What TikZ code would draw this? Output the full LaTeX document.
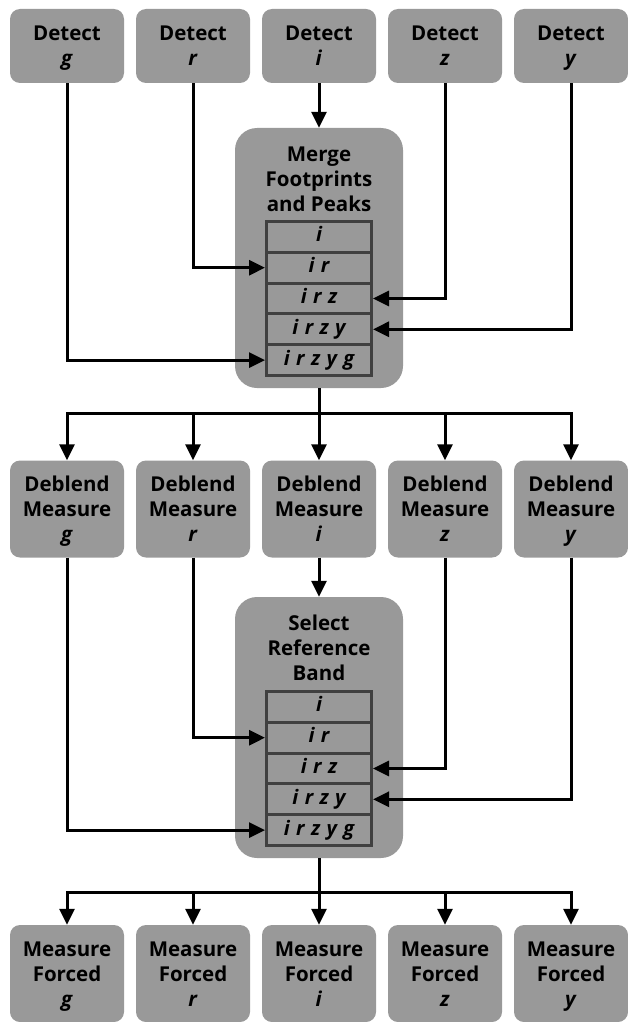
\documentclass[tikz,border=0pt]{standalone}
\usepackage{fontspec}
\setmainfont{Open Sans}
\usetikzlibrary{arrows.meta,calc}
\definecolor{boxgray}{HTML}{999999}
\definecolor{rowedge}{HTML}{404040}
\newcommand{\ls}{\hspace{0.32em}}
\newcommand{\st}{\rule[-5pt]{0pt}{25pt}}
\begin{document}
\begin{tikzpicture}[x=1pt,y=-1pt,
  boxfont/.style={font=\fontsize{20.5}{25}\selectfont\bfseries},
  smallbox/.style={fill=boxgray, rounded corners=10pt, minimum width=114pt, minimum height=74pt, align=center, inner sep=0pt, boxfont},
  tallbox/.style={smallbox, minimum height=97pt},
  bigbox/.style={fill=boxgray, rounded corners=22pt, minimum width=168pt, minimum height=260pt, inner sep=0pt},
  title/.style={align=center, inner sep=0pt, boxfont},
  rowbox/.style={draw=rowedge, line width=3pt, fill=boxgray, minimum width=105pt, minimum height=30.8pt, inner sep=0pt, text height=14pt, text depth=4pt, font=\fontsize{20}{25}\selectfont\bfseries\itshape},
  arr/.style={line width=3pt, -{Triangle[length=16pt,width=15pt]}},
]
\useasboundingbox (0,0) rectangle (627,1022);
% top row
\node[smallbox] (dg) at (67,46)  {\st Detect\\\st\textit{g}};
\node[smallbox] (dr) at (193,46) {\st Detect\\\st\textit{r}};
\node[smallbox] (di) at (319,46) {\st Detect\\\st\textit{i}};
\node[smallbox] (dz) at (445,46) {\st Detect\\\st\textit{z}};
\node[smallbox] (dy) at (571,46) {\st Detect\\\st\textit{y}};
% merge
\node[bigbox] (merge) at (319,258) {};
\node[title] (mtitle) at (319,179) {\st Merge\\\st Footprints\\\st and Peaks};
\node[rowbox] (m1) at (319,236.9) {i};
\node[rowbox] (m2) at (319,267.7) {i\ls r};
\node[rowbox] (m3) at (319,298.5) {i\ls r\ls z};
\node[rowbox] (m4) at (319,329.3) {i\ls r\ls z\ls y};
\node[rowbox] (m5) at (319,360.1) {i\ls r\ls z\ls y\ls g};
\draw[arr] (dg.south) |- (m5.west);
\draw[arr] (dr.south) |- (m2.west);
\draw[arr] (di.south) -- (merge.north);
\draw[arr] (dz.south) |- (m3.east);
\draw[arr] (dy.south) |- (m4.east);
% deblend row
\node[tallbox] (bg) at (67,509)  {\st Deblend\\\st Measure\\\st\textit{g}};
\node[tallbox] (br) at (193,509) {\st Deblend\\\st Measure\\\st\textit{r}};
\node[tallbox] (bi) at (319,509) {\st Deblend\\\st Measure\\\st\textit{i}};
\node[tallbox] (bz) at (445,509) {\st Deblend\\\st Measure\\\st\textit{z}};
\node[tallbox] (by) at (571,509) {\st Deblend\\\st Measure\\\st\textit{y}};
\coordinate (bus1) at (319,413);
\draw[arr] (merge.south) -- (bus1) -| (bg.north);
\draw[arr] (merge.south) -- (bus1) -| (br.north);
\draw[arr] (merge.south) -- (bi.north);
\draw[arr] (merge.south) -- (bus1) -| (bz.north);
\draw[arr] (merge.south) -- (bus1) -| (by.north);
% select
\node[bigbox, minimum height=261pt] (sel) at (319,727.5) {};
\node[title] (stitle) at (319,648) {\st Select\\\st Reference\\\st Band};
\node[rowbox] (s1) at (319,706.9) {i};
\node[rowbox] (s2) at (319,737.7) {i\ls r};
\node[rowbox] (s3) at (319,768.5) {i\ls r\ls z};
\node[rowbox] (s4) at (319,799.3) {i\ls r\ls z\ls y};
\node[rowbox] (s5) at (319,830.1) {i\ls r\ls z\ls y\ls g};
\draw[arr] (bg.south) |- (s5.west);
\draw[arr] (br.south) |- (s2.west);
\draw[arr] (bi.south) -- (sel.north);
\draw[arr] (bz.south) |- (s3.east);
\draw[arr] (by.south) |- (s4.east);
% measure forced row
\node[tallbox] (fg) at (67,973.5)  {\st Measure\\\st Forced\\\st\textit{g}};
\node[tallbox] (fr) at (193,973.5) {\st Measure\\\st Forced\\\st\textit{r}};
\node[tallbox] (fi) at (319,973.5) {\st Measure\\\st Forced\\\st\textit{i}};
\node[tallbox] (fz) at (445,973.5) {\st Measure\\\st Forced\\\st\textit{z}};
\node[tallbox] (fy) at (571,973.5) {\st Measure\\\st Forced\\\st\textit{y}};
\coordinate (bus2) at (319,892);
\draw[arr] (sel.south) -- (bus2) -| (fg.north);
\draw[arr] (sel.south) -- (bus2) -| (fr.north);
\draw[arr] (sel.south) -- (fi.north);
\draw[arr] (sel.south) -- (bus2) -| (fz.north);
\draw[arr] (sel.south) -- (bus2) -| (fy.north);
\end{tikzpicture}
\end{document}
